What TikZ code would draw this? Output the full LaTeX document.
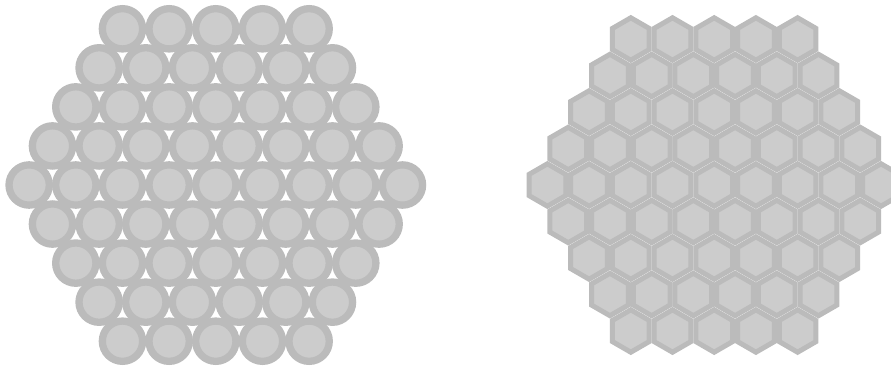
\documentclass[tikz,border=0pt]{standalone}
\usepackage{tikz}
\definecolor{cellfill}{HTML}{CCCCCC}
\definecolor{cellline}{HTML}{BBBBBB}

\begin{document}
\begin{tikzpicture}[
                    x=1pt, y=-1pt,
                    disc/.style={fill=cellfill, draw=cellline, line width=7.3pt},
                    hexa/.style={fill=cellfill, draw=cellline, line width=5pt, line join=miter}
                ]
                    \useasboundingbox (0,0) rectangle (891,369);
                    \clip (0,0) rectangle (891,369);

                    % packed circles
                    \foreach \r in {-4,...,4} {
                        \pgfmathtruncatemacro{\n}{9-abs(\r)}
                        \foreach \k in {1,...,\n} {
                            \path[disc] ({215.8+(\k-(\n+1)/2)*46.66}, {185+\r*39.05}) circle (20.15pt);
                        }
                    }

                    % packed hexagons
                    \foreach \r in {-4,...,4} {
                        \pgfmathtruncatemacro{\n}{9-abs(\r)}
                        \foreach \k in {1,...,\n} {
                            \path[hexa] ({714.2+(\k-(\n+1)/2)*41.7}, {185+\r*36.5})
                                +(30:21.2) -- +(90:21.2) -- +(150:21.2) -- +(210:21.2) -- +(270:21.2) -- +(330:21.2) -- cycle;
                        }
                    }
                \end{tikzpicture}
\end{document}
